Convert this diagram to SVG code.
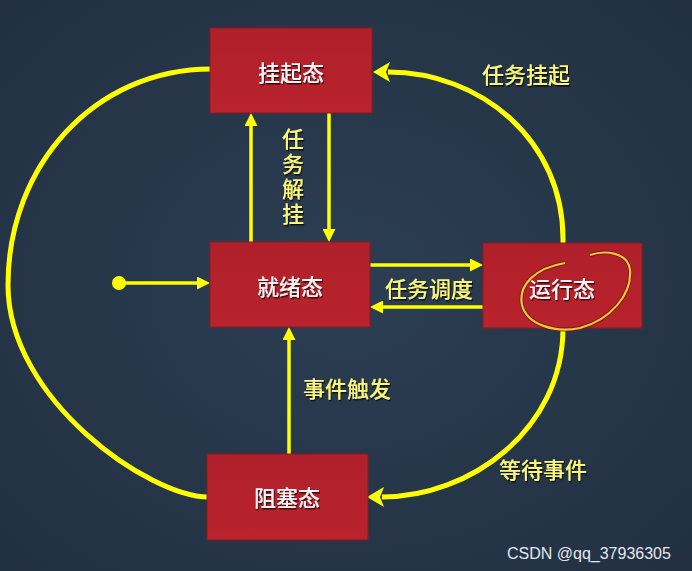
<svg xmlns="http://www.w3.org/2000/svg" width="692" height="571" viewBox="0 0 692 571">
  <defs>
    <radialGradient id="bg" cx="50%" cy="50%" r="75%">
      <stop offset="0" stop-color="#2c3e53"/>
      <stop offset="1" stop-color="#212f40"/>
    </radialGradient>
    <linearGradient id="boxg" x1="0" y1="0" x2="0" y2="1">
      <stop offset="0" stop-color="#b0202a"/>
      <stop offset="1" stop-color="#b8232d"/>
    </linearGradient>
    <filter id="sh" x="-10%" y="-10%" width="130%" height="130%">
      <feDropShadow dx="1" dy="1.5" stdDeviation="0.6" flood-color="#000" flood-opacity="0.7"/>
    </filter>
    <marker id="ah" markerUnits="userSpaceOnUse" markerWidth="13" markerHeight="13" refX="1" refY="6.5" orient="auto">
      <path d="M0,0 L13,6.5 L0,13 z" fill="#ffff00"/>
    </marker>
    <marker id="ahb" markerUnits="userSpaceOnUse" markerWidth="18" markerHeight="20" refX="2" refY="10" orient="auto">
      <path d="M0,0 L17,10 L0,20 L4,10 z" fill="#ffff00"/>
    </marker>
  </defs>
  <style>
    .box { fill: url(#boxg); stroke: #8e1820; stroke-width: 1; }
    .ntext { font-family: "Noto Sans CJK SC", "Noto Sans", sans-serif; font-size: 22px; font-weight: 500; fill: #fff3f6; text-anchor: middle; dominant-baseline: central; filter: url(#sh); }
    .lbl { font-family: "Noto Sans CJK SC", "Noto Sans", sans-serif; font-size: 22px; font-weight: 500; fill: #fbf77a; text-anchor: middle; dominant-baseline: central; filter: url(#sh); }
    .vlbl { font-family: "Noto Sans CJK SC", "Noto Sans", sans-serif; font-size: 22px; font-weight: 500; fill: #fbf77a; writing-mode: vertical-rl; letter-spacing: 3px; filter: url(#sh); }
    .arc { fill: none; stroke: #ffff00; stroke-width: 5; }
    .ln { fill: none; stroke: #ffff00; stroke-width: 3.5; }
    .wm { font-family: "Liberation Sans", Arial, sans-serif; font-size: 16px; fill: #e4e8ee; }
  </style>
  <rect width="692" height="571" fill="url(#bg)"/>

  <g id="connectors">
    <path class="arc" d="M211,69 C95,69 8,165 8,285 C8,400 150,497 208,497"/>
    <path class="arc" d="M563,243 C565,140 480,72 388,72" marker-end="url(#ahb)"/>
    <path class="arc" d="M563,328 C563,430 470,497 382,497" marker-end="url(#ahb)"/>
    <path class="ln" d="M251,242 L251,125" marker-end="url(#ah)"/>
    <path class="ln" d="M329,113 L329,230" marker-end="url(#ah)"/>
    <path class="ln" d="M370,265 L471,265" marker-end="url(#ah)"/>
    <path class="ln" d="M483,307 L382,307" marker-end="url(#ah)"/>
    <path class="ln" d="M119,283 L198,283" marker-end="url(#ah)"/>
    <path class="ln" d="M289,455 L289,339" marker-end="url(#ah)"/>
    <circle cx="119" cy="283" r="7" fill="#ffff00"/>
  </g>

  <g id="node-suspended">
    <rect class="box" x="210" y="28" width="162" height="85"/>
    <text class="ntext" x="291" y="71">挂起态</text>
  </g>
  <g id="node-ready">
    <rect class="box" x="210" y="242" width="160" height="85"/>
    <text class="ntext" x="290" y="285">就绪态</text>
  </g>
  <g id="node-running">
    <rect class="box" x="483" y="243" width="159" height="85"/>
    <text class="ntext" x="562" y="287">运行态</text>
  </g>
  <g id="node-blocked">
    <rect class="box" x="207" y="454" width="161" height="86"/>
    <text class="ntext" x="287" y="496">阻塞态</text>
  </g>

  <path d="M565,263 C535,268 518,285 522,305 C527,325 555,333 580,328 C610,320 632,295 630,270 C628,252 605,250 590,255" fill="none" stroke="#7a1a10" stroke-width="4"/>
  <path d="M565,263 C535,268 518,285 522,305 C527,325 555,333 580,328 C610,320 632,295 630,270 C628,252 605,250 590,255" fill="none" stroke="#f3c63a" stroke-width="2.2"/>

  <g id="labels">
    <text class="lbl" x="526" y="73">任务挂起</text>
    <text class="vlbl" x="293" y="128">任务解挂</text>
    <text class="lbl" x="429" y="287">任务调度</text>
    <text class="lbl" x="347" y="387">事件触发</text>
    <text class="lbl" x="543" y="468">等待事件</text>
  </g>
  <text class="wm" x="507" y="559">CSDN @qq_37936305</text>
</svg>
